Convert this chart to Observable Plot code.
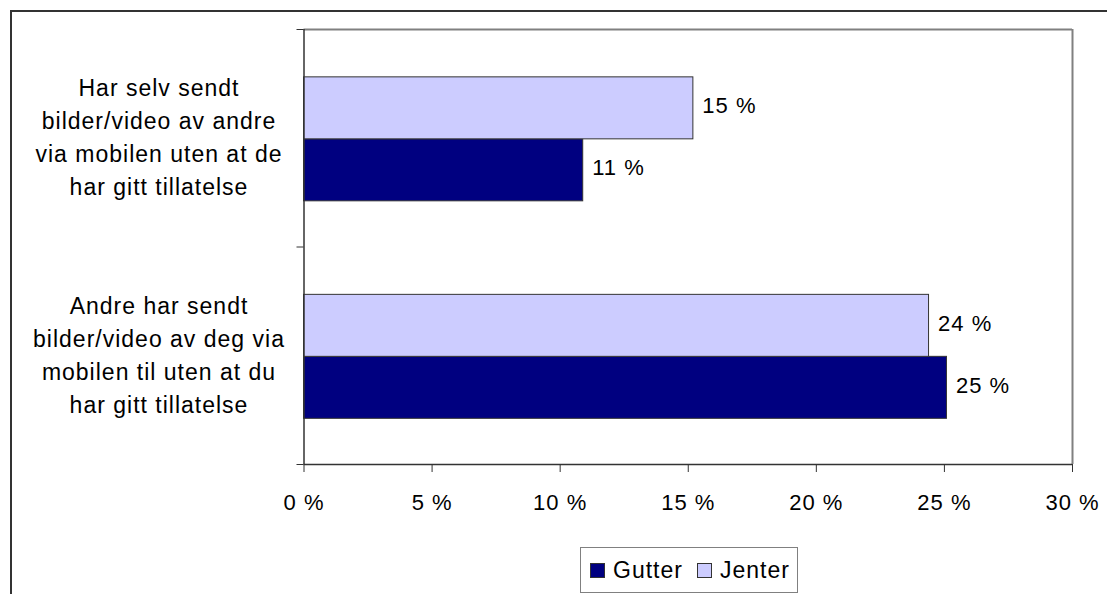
<!DOCTYPE html>
<html>
<head>
<meta charset="utf-8">
<script src="https://cdn.jsdelivr.net/npm/d3@7"></script>
<script src="https://cdn.jsdelivr.net/npm/@observablehq/plot@0.6"></script>
<style>
  html, body { margin: 0; padding: 0; background: #fff; }
  #wrap { position: relative; width: 1107px; height: 594px; overflow: hidden; font-family: "Liberation Sans", Arial, sans-serif; }
  #outer { position: absolute; left: 10px; top: 10px; width: 1200px; height: 700px; border-left: 2px solid #333; border-top: 2px solid #333; }
  #chart { position: absolute; left: 0; top: 0; }
  #chart svg text { letter-spacing: 1px; }
  #legend { position: absolute; left: 580px; top: 547px; width: 218px; height: 46px; box-sizing: border-box;
            border: 1.5px solid #808080; display: flex; align-items: center; padding-left: 9px;
            font-size: 23px; letter-spacing: 1px; color: #000; background: #fff; }
  #legend .sw { width: 13px; height: 13px; border: 1px solid #333; margin-right: 8px; }
  #legend .item { display: flex; align-items: center; margin-right: 14px; }
</style>
</head>
<body>
<div id="wrap">
  <div id="outer"></div>
  <div id="chart"></div>
  <div id="legend"></div>
</div>
<script>
// ---- data ----
const categories = [
  "Har selv sendt\nbilder/video av andre\nvia mobilen uten at de\nhar gitt tillatelse",
  "Andre har sendt\nbilder/video av deg via\nmobilen til uten at du\nhar gitt tillatelse"
];
const seriesNames = ["Gutter", "Jenter"];
const gutterValues = [10.9, 25.1];
const jenterValues = [15.2, 24.4];
const xTicks = [0, 5, 10, 15, 20, 25, 30];
const seriesColors = ["#000080", "#CCCCFF"];

// ---- layout within each category band (fractions of a band) ----
const groupPad = 0.22;
const barH = 0.285;
// Jenter drawn on top, Gutter below
const seriesOrder = {Jenter: 0, Gutter: 1};

const rows = [];
categories.forEach((c, i) => {
  rows.push({cat: c, i, series: "Gutter", value: gutterValues[i]});
  rows.push({cat: c, i, series: "Jenter", value: jenterValues[i]});
});
rows.forEach(d => {
  d.y1 = d.i + groupPad + seriesOrder[d.series] * barH;
  d.y2 = d.y1 + barH;
  d.ym = (d.y1 + d.y2) / 2;
});

const plot = Plot.plot({
  width: 1107,
  height: 546,
  marginLeft: 303.5,
  marginRight: 35,
  marginTop: 29,
  marginBottom: 82,
  style: {fontFamily: "Liberation Sans, Arial, sans-serif", fontSize: "22px", color: "#000", background: "transparent"},
  x: {domain: [0, 30], label: null},
  y: {domain: [0, categories.length], reverse: true, label: null},
  color: {domain: seriesNames, range: seriesColors},
  marks: [
    Plot.rect(rows, {x1: () => 0, x2: "value", y1: "y1", y2: "y2", fill: "series", stroke: "#333", strokeWidth: 1}),
    Plot.ruleY([0], {stroke: "#808080", strokeWidth: 2}),
    Plot.ruleX([30], {stroke: "#808080", strokeWidth: 2}),
    Plot.ruleX([0], {stroke: "#333", strokeWidth: 1.5}),
    Plot.ruleY([categories.length], {stroke: "#333", strokeWidth: 1.5}),
    Plot.axisY(d3.range(categories.length + 1), {tickSize: 7, tickFormat: () => "", stroke: "#333", label: null}),
    Plot.axisX(xTicks, {tickSize: 8, tickPadding: 22, tickFormat: d => d + " %", stroke: "#333", fontSize: 22, label: null}),
    Plot.text(rows, {x: "value", y: "ym", text: d => Math.round(d.value) + " %", dx: 9, dy: -2, textAnchor: "start", fontSize: 22, fill: "#000"}),
    Plot.text(categories, {y: (d, i) => i + 0.5, text: d => d, frameAnchor: "left", dx: -145, dy: -3, textAnchor: "middle", lineHeight: 1.43, fontSize: 23, fill: "#000"})
  ]
});
document.getElementById("chart").appendChild(plot);

// ---- legend ----
const legend = document.getElementById("legend");
seriesNames.forEach((s, k) => {
  const item = document.createElement("div");
  item.className = "item";
  const sw = document.createElement("div");
  sw.className = "sw";
  sw.style.background = seriesColors[k];
  const t = document.createElement("span");
  t.textContent = s;
  item.appendChild(sw);
  item.appendChild(t);
  legend.appendChild(item);
});
</script>
</body>
</html>
